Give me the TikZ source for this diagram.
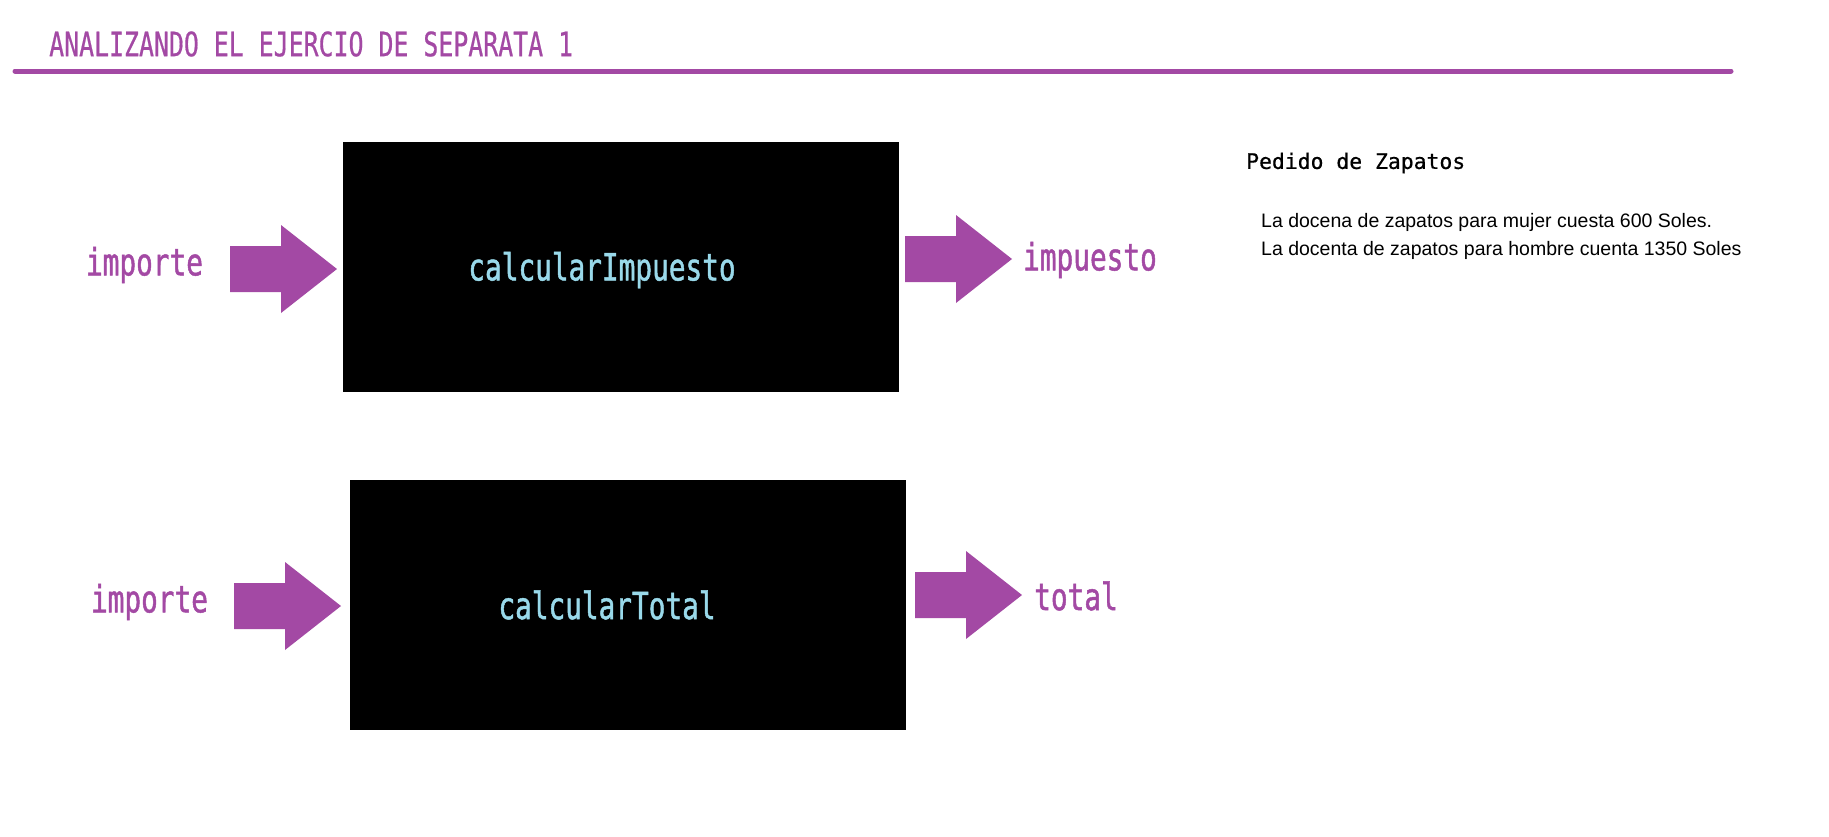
\documentclass[tikz,border=0pt]{standalone}
\usepackage{fontspec}
\setmainfont{Liberation Sans}
\newfontfamily\monoangosta[FakeStretch=0.74,FakeBold=1.2]{DejaVu Sans Mono}
\newfontfamily\monotitulo[FakeStretch=0.74,FakeBold=0.5]{DejaVu Sans Mono}
\newfontfamily\mononormal[FakeBold=0.6]{DejaVu Sans Mono}
\usetikzlibrary{positioning}
\definecolor{morado}{RGB}{163,73,164}
\definecolor{celeste}{RGB}{153,217,234}

\begin{document}
\begin{tikzpicture}[x=1pt,y=-1pt,
  caja/.style={fill=black,minimum width=556pt,minimum height=250pt,inner sep=0pt},
  funcion/.style={text=celeste,font=\monoangosta\fontsize{37.5}{40}\selectfont,inner sep=0pt},
  dato/.style={text=morado,font=\monoangosta\fontsize{37.5}{40}\selectfont,inner sep=0pt},
  flecha/.pic={\fill[morado] (0,-23) -- (51,-23) -- (51,-44) -- (107,0) -- (51,44) -- (51,23) -- (0,23) -- cycle;}]
  \useasboundingbox[fill=white] (0,0) rectangle (1829,836);
  % Draw title
  \node[anchor=west,text=morado,font=\monotitulo\fontsize{33.6}{38}\selectfont,inner sep=0pt] (titulo) at (49,44) {ANALIZANDO EL EJERCIO DE SEPARATA 1};
  \coordinate (rayaA) at (15,71);
  \coordinate (rayaB) at (1731,71);
  \draw[morado,line width=5pt,line cap=round] (rayaA) -- (rayaB);
  % First function
  \node[caja] (impuestoBox) at (621,267) {};
  \node[funcion] (impuestoFn) at (602,270) {calcularImpuesto};
  \node[dato] (importeA) at (144.5,265) {importe};
  \node[dato] (impuesto) at (1090,260) {impuesto};
  \pic at (230,269) {flecha};
  \pic at (905,259) {flecha};
  % Second function
  \node[caja] (totalBox) at (628,604.5) {};
  \node[funcion] (totalFn) at (607,605) {calcularTotal};
  \node[dato] (importeB) at (149.5,602) {importe};
  \node[dato] (total) at (1076,596) {total};
  \pic at (234,606) {flecha};
  \pic at (915,595) {flecha};
  % Notes
  \node[anchor=west,font=\mononormal\fontsize{21.4}{26}\selectfont,inner sep=0pt] (pedido) at (1246,163) {Pedido de Zapatos};
  \node[anchor=west,align=left,font=\fontsize{19.5}{28}\selectfont,inner sep=0pt] (precios) at (1261,236) {La docena de zapatos para mujer cuesta 600 Soles.\\La docenta de zapatos para hombre cuenta 1350 Soles};
\end{tikzpicture}
\end{document}
